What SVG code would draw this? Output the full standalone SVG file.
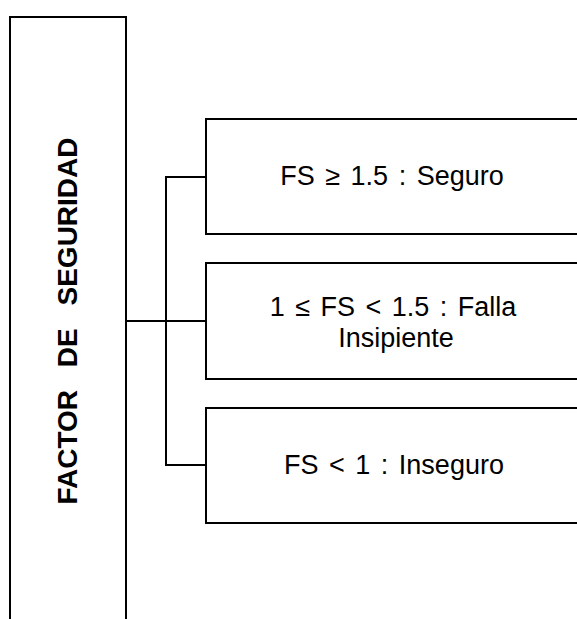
<svg xmlns="http://www.w3.org/2000/svg" width="577" height="619" viewBox="0 0 577 619">
  <style>
    .box { fill: #ffffff; stroke: #000000; stroke-width: 2; }
    .wire { fill: none; stroke: #000000; stroke-width: 2; }
    .lbl { font-family: "Liberation Sans", Arial, sans-serif; font-size: 27px; fill: #000000; text-anchor: middle; word-spacing: 3px; }
    .title { font-family: "Liberation Sans", Arial, sans-serif; font-size: 28px; font-weight: bold; fill: #000000; text-anchor: middle; word-spacing: 15px; }
  </style>
  <rect width="577" height="619" fill="#ffffff"/>

  <g id="factor">
    <rect class="box" x="10" y="17" width="116" height="620"/>
    <text class="title" transform="translate(77 321) rotate(-90)">FACTOR DE SEGURIDAD</text>
  </g>

  <g id="connectors">
    <path class="wire" d="M126 321 H206"/>
    <path class="wire" d="M206 177 H166 V465 H206"/>
  </g>

  <g id="seguro">
    <rect class="box" x="206" y="119" width="380" height="115"/>
    <text class="lbl" x="392" y="185">FS ≥ 1.5 : Seguro</text>
  </g>

  <g id="falla">
    <rect class="box" x="206" y="263" width="380" height="116"/>
    <text class="lbl" x="393" y="316">1 ≤ FS &lt; 1.5 : Falla</text>
    <text class="lbl" x="396" y="347">Insipiente</text>
  </g>

  <g id="inseguro">
    <rect class="box" x="206" y="408" width="380" height="115"/>
    <text class="lbl" x="394" y="474">FS &lt; 1 : Inseguro</text>
  </g>
</svg>
